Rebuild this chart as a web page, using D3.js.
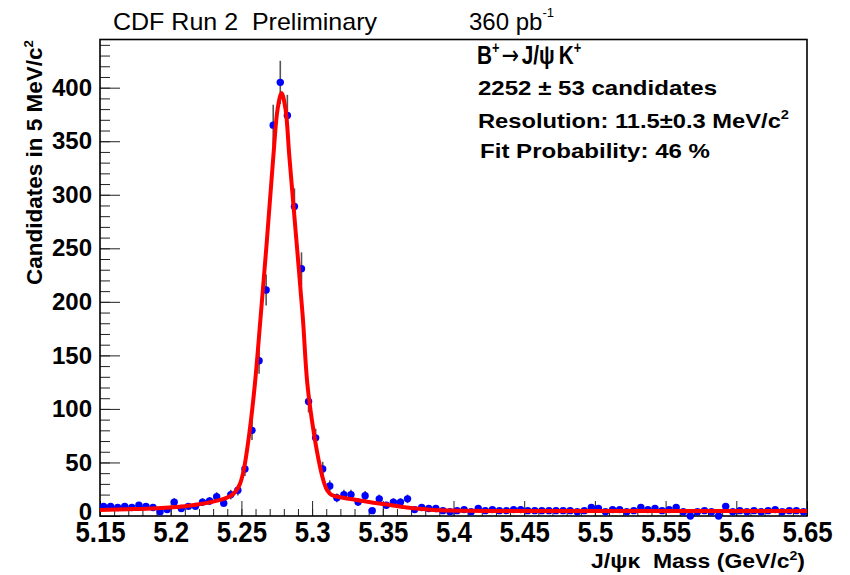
<!DOCTYPE html>
<html lang="en">
<head>
<meta charset="UTF-8">
<title>B+ to J/psi K+ mass</title>
<script src="https://cdn.jsdelivr.net/npm/d3@7"></script>
<style>
  body { margin: 0; background: #fff; }
  svg { display: block; font-family: "Liberation Sans", Arial, Helvetica, sans-serif; }
  .axis text { font-weight: bold; fill: #000; }
  .axis line { stroke: #222; }
</style>
</head>
<body>
<svg id="chart" width="850" height="575"></svg>
<script>
// 5 MeV/c^2 bins between 5.15 and 5.65 GeV/c^2
const massLow = 5.15, massHigh = 5.65, binWidth = 0.005;

// candidates per bin
const counts = [
  9, 9, 8, 9, 8, 10, 9, 8, 4, 6,
  13, 7, 9, 9, 13, 14, 18, 12, 20, 24,
  44, 80, 145, 211, 365, 405, 374, 289, 231, 107,
  73, 44, 28, 17, 20, 20, 13, 19, 5, 16,
  10, 13, 13, 16, 6, 8, 7, 7, 5, 4,
  5, 6, 4, 7, 5, 6, 5, 5, 6, 6,
  5, 5, 5, 5, 5, 5, 5, 4, 5, 8,
  7, 4, 6, 6, 4, 5, 8, 6, 7, 5,
  6, 8, 4, 0, 4, 5, 4, 0, 9, 4,
  5, 4, 5, 4, 5, 6, 4, 5, 5, 4
];

// fitted curve
const fitMass = [5.150, 5.170, 5.190, 5.210, 5.225, 5.235, 5.242, 5.246, 5.249, 5.2518,
  5.2556, 5.2596, 5.2636, 5.2679, 5.2726, 5.2756, 5.2784, 5.2812, 5.2839, 5.2886,
  5.2934, 5.2966, 5.3013, 5.3056, 5.3085, 5.3107, 5.3139, 5.3197, 5.3315, 5.3433,
  5.3551, 5.3669, 5.3786, 5.3905, 5.4023, 5.4258, 5.65];
const fitValue = [5.6, 6.3, 7.3, 9.2, 12, 15, 18.5, 23, 30, 44,
  77, 124, 186, 255, 336, 380, 395, 380, 336, 262,
  186, 124, 77, 46, 31, 24, 19.6, 17.5, 15, 12.4,
  10.3, 8, 6.5, 5.3, 5, 4.7, 4.6];

const xTicks = [5.15, 5.2, 5.25, 5.3, 5.35, 5.4, 5.45, 5.5, 5.55, 5.6, 5.65];
const xTickLabels = ["5.15", "5.2", "5.25", "5.3", "5.35", "5.4", "5.45", "5.5", "5.55", "5.6", "5.65"];
const yTicks = [0, 50, 100, 150, 200, 250, 300, 350, 400];

const W = 850, H = 575;
const margin = {top: 39.5, right: 43, bottom: 59, left: 100};

const svg = d3.select("#chart");

const x = d3.scaleLinear().domain([massLow, massHigh]).range([margin.left, W - margin.right]);
const y = d3.scaleLinear().domain([0, 445]).range([H - margin.bottom, margin.top]);

function fitWidth(sel, width) {
  sel.attr("textLength", width).attr("lengthAdjust", "spacingAndGlyphs");
}

// x axis: minor ticks every 10 MeV, major every 50 MeV, drawn inward
const xMinor = d3.range(0, 51).map(i => massLow + i * 0.01);
svg.append("g").attr("class", "axis")
  .attr("transform", `translate(0,${y(0)})`)
  .call(d3.axisBottom(x).tickValues(xMinor).tickSize(-7).tickSizeOuter(0).tickFormat(""))
  .call(g => g.select(".domain").remove());

const gx = svg.append("g").attr("class", "axis")
  .attr("transform", `translate(0,${y(0)})`)
  .call(d3.axisBottom(x).tickValues(xTicks).tickSize(-15).tickSizeOuter(0)
    .tickFormat((d, i) => xTickLabels[i]))
  .call(g => g.select(".domain").remove());
gx.selectAll("text")
  .attr("y", 26).attr("dy", null)
  .style("font-size", "30px")
  .each(function() {
    const w = this.getComputedTextLength();
    d3.select(this).attr("textLength", w * 0.86).attr("lengthAdjust", "spacingAndGlyphs");
  });

// y axis
const yMinor = d3.range(0, 441, 10);
svg.append("g").attr("class", "axis")
  .attr("transform", `translate(${x(massLow)},0)`)
  .call(d3.axisLeft(y).tickValues(yMinor).tickSize(-10).tickSizeOuter(0).tickFormat(""))
  .call(g => g.select(".domain").remove());

const gy = svg.append("g").attr("class", "axis")
  .attr("transform", `translate(${x(massLow)},0)`)
  .call(d3.axisLeft(y).tickValues(yTicks).tickSize(-20).tickSizeOuter(0).tickPadding(8))
  .call(g => g.select(".domain").remove());
gy.selectAll("text").style("font-size", "24px");
// the zero label sits just above the first x label
gy.selectAll("text").filter(d => d === 0).attr("y", -4);

// frame
svg.append("rect")
  .attr("x", x(massLow)).attr("y", y(445))
  .attr("width", x(massHigh) - x(massLow))
  .attr("height", y(0) - y(445))
  .attr("fill", "none").attr("stroke", "#000").attr("stroke-width", 1.6);

// data points with sqrt(N) errors
const bins = counts.map((n, i) => ({m: massLow + (i + 0.5) * binWidth, n: n}));

svg.append("g").selectAll("line")
  .data(bins.filter(d => d.n > 0))
  .join("line")
  .attr("x1", d => x(d.m)).attr("x2", d => x(d.m))
  .attr("y1", d => y(d.n + Math.sqrt(d.n)))
  .attr("y2", d => y(Math.max(0, d.n - Math.sqrt(d.n))))
  .attr("stroke", "#555").attr("stroke-width", 1.6);

svg.append("g").selectAll("circle")
  .data(bins)
  .join("circle")
  .attr("cx", d => x(d.m))
  .attr("cy", d => y(d.n))
  .attr("r", 3.7)
  .attr("fill", "#0000ff");

// fit
const fitLine = d3.line()
  .x((d, i) => x(fitMass[i]))
  .y(d => y(d))
  .curve(d3.curveCatmullRom.alpha(0.5));

svg.append("path")
  .attr("d", fitLine(fitValue))
  .attr("fill", "none")
  .attr("stroke", "#ff0000")
  .attr("stroke-width", 4)
  .attr("stroke-linejoin", "round");

// header
svg.append("text")
  .attr("x", 113).attr("y", 30)
  .style("font-size", "24px").style("white-space", "pre")
  .text("CDF Run 2  Preliminary")
  .call(fitWidth, 264);

const lumi = svg.append("text")
  .attr("x", 469).attr("y", 30)
  .style("font-size", "24px");
lumi.append("tspan").text("360 pb");
lumi.append("tspan").attr("dy", -13).style("font-size", "13px").text("-1");

// legend lines
const leg = svg.append("g").style("font-weight", "bold");

const l1 = leg.append("text")
  .attr("transform", "translate(477,64) scale(0.8,1)")
  .style("font-size", "26px");
l1.append("tspan").text("B");
l1.append("tspan").attr("dy", -11).style("font-size", "16px").text("+");
l1.append("tspan").attr("dy", 11).attr("dx", 3)
  .style("font-family", "'DejaVu Sans', sans-serif").style("font-weight", "normal")
  .style("font-size", "26px").text("\u2192");
l1.append("tspan").attr("dx", 3).text("J/\u03c8");
l1.append("tspan").attr("dx", 5).text("K");
l1.append("tspan").attr("dy", -11).style("font-size", "16px").text("+");

leg.append("text").attr("x", 478).attr("y", 95).style("font-size", "21px")
  .text("2252 \u00b1 53 candidates")
  .call(fitWidth, 239);

const l3 = leg.append("text").attr("x", 478).attr("y", 128).style("font-size", "21px");
l3.append("tspan").text("Resolution: 11.5\u00b10.3 MeV/c");
l3.append("tspan").attr("dy", -9).style("font-size", "13px").text("2");
l3.call(fitWidth, 311);

leg.append("text").attr("x", 480).attr("y", 158).style("font-size", "21px")
  .text("Fit Probability: 46 %")
  .call(fitWidth, 230);

// axis titles
const xt = svg.append("text")
  .attr("x", 805).attr("y", 568)
  .attr("text-anchor", "end")
  .style("font-size", "21px").style("font-weight", "bold").style("white-space", "pre");
xt.append("tspan").text("J/\u03c8\u03ba  Mass (GeV/c");
xt.append("tspan").attr("dy", -8).style("font-size", "13px").text("2");
xt.append("tspan").attr("dy", 8).text(")");
xt.call(fitWidth, 214);

const yt = svg.append("text")
  .attr("transform", "translate(42,40) rotate(-90)")
  .attr("text-anchor", "end")
  .style("font-size", "22px").style("font-weight", "bold");
yt.append("tspan").text("Candidates in 5 MeV/c");
yt.append("tspan").attr("dy", -9).style("font-size", "13px").text("2");
yt.call(fitWidth, 245);
</script>
</body>
</html>
